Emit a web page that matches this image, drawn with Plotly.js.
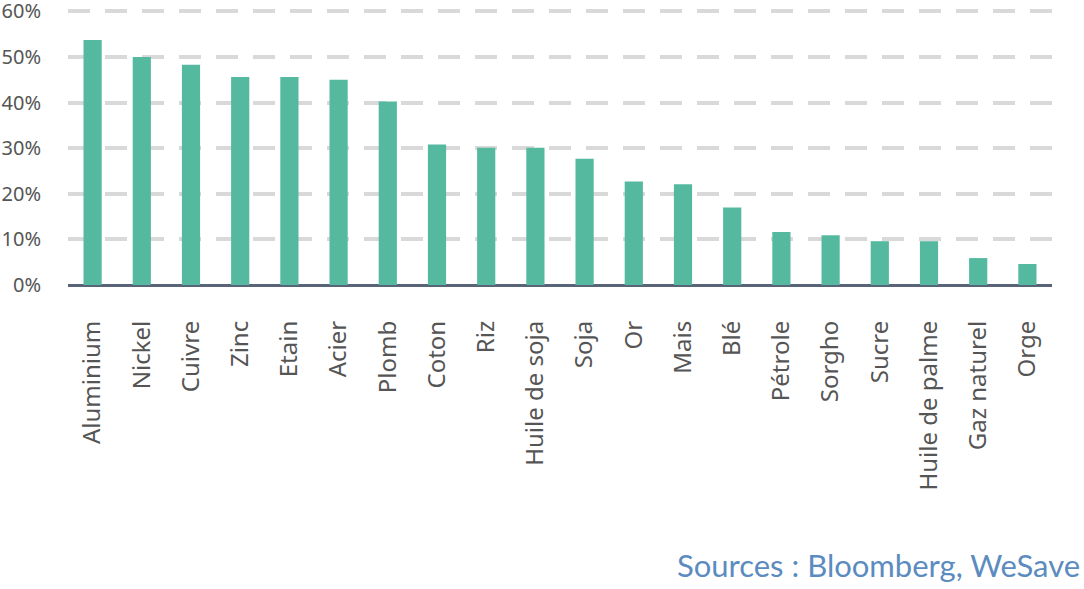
<!DOCTYPE html>
<html>
<head>
<meta charset="utf-8">
<script src="https://cdn.plot.ly/plotly-3.0.1.min.js"></script>
<style>
  html, body { margin: 0; padding: 0; background: #fff; }
  #chart { width: 1084px; height: 589px; }
</style>
</head>
<body>
<div id="chart"></div>
<script>
const commodities = ["Aluminium", "Nickel", "Cuivre", "Zinc", "Etain", "Acier", "Plomb", "Coton", "Riz",
  "Huile de soja", "Soja", "Or", "Mais", "Blé", "Pétrole", "Sorgho", "Sucre", "Huile de palme",
  "Gaz naturel", "Orge"];
const hausse = [53.7, 50.0, 48.3, 45.6, 45.6, 45.0, 40.2, 30.8, 30.1,
  30.1, 27.7, 22.7, 22.1, 17.0, 11.6, 10.9, 9.6, 9.6,
  5.9, 4.6];
const yTicks = [0, 10, 20, 30, 40, 50, 60];
const yTickText = yTicks.map(v => v + "%");

const trace = {
  x: commodities,
  y: hausse,
  type: "bar",
  marker: { color: "#55b9a0" },
  hoverinfo: "x+y"
};

const layout = {
  width: 1084,
  height: 589,
  margin: { l: 68, r: 32, t: 9, b: 304 },
  paper_bgcolor: "#fff",
  plot_bgcolor: "#fff",
  bargap: 0.63,
  showlegend: false,
  font: { family: "Noto Sans, sans-serif", color: "#555555" },
  xaxis: {
    type: "category",
    tickangle: -90,
    tickfont: { size: 24, color: "#555555" },
    ticks: "",
    ticklabelstandoff: 30,
    showgrid: false,
    showline: false,
    zeroline: false
  },
  yaxis: {
    range: [0, 60.5],
    tickvals: yTicks,
    ticktext: yTickText,
    tickfont: { size: 20, color: "#555555" },
    ticks: "",
    ticklabelstandoff: 26,
    ticklabeloverflow: "allow",
    showgrid: true,
    gridcolor: "#d9d9d9",
    gridwidth: 4,
    griddash: "22px,15px",
    zeroline: true,
    zerolinecolor: "#5a6478",
    zerolinewidth: 3,
    showline: false,
    fixedrange: true
  },
  annotations: [{
    text: "Sources : Bloomberg, WeSave",
    xref: "paper", yref: "paper",
    x: 1, y: -1.014,
    xanchor: "right", yanchor: "middle",
    xshift: 30,
    showarrow: false,
    font: { family: "Lato, sans-serif", size: 31, color: "#5b8bbf" }
  }]
};

Plotly.newPlot("chart", [trace], layout, { displayModeBar: false, staticPlot: true });
</script>
</body>
</html>
